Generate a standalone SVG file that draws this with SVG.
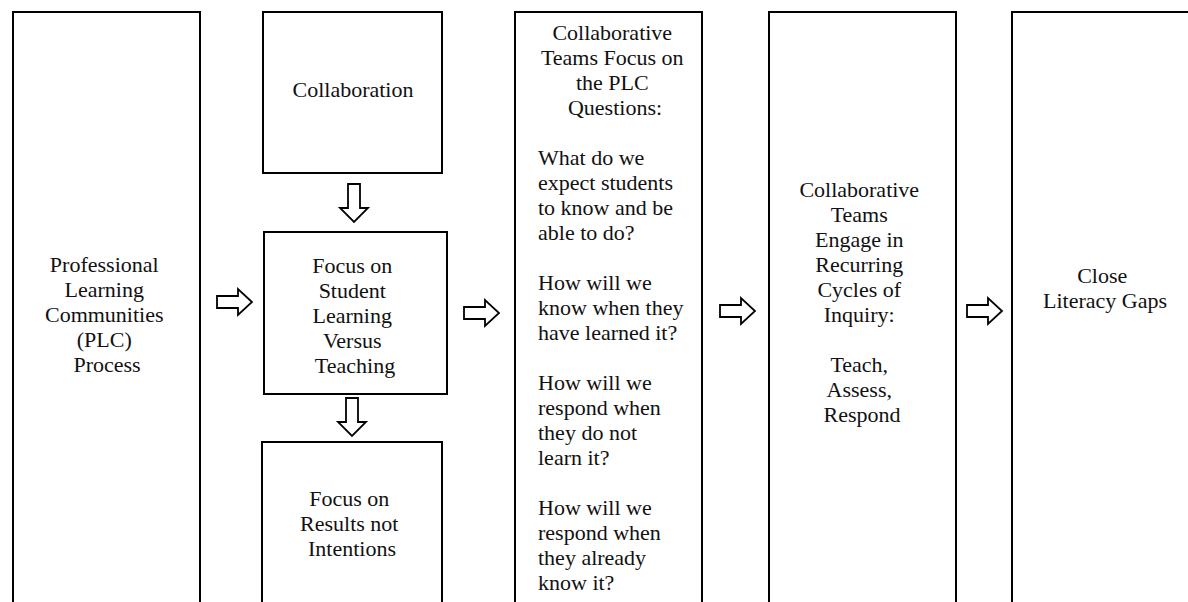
<svg xmlns="http://www.w3.org/2000/svg" width="1188" height="602" viewBox="0 0 1188 602">
  <style>
    .box { fill: #ffffff; stroke: #000000; stroke-width: 2; }
    .arrow { fill: #ffffff; stroke: #000000; stroke-width: 1.8; stroke-linejoin: miter; }
    text { font-family: "Liberation Serif", "Times New Roman", serif; font-size: 22px; fill: #111111; }
    .c { text-anchor: middle; }
  </style>
  <defs>
    <!-- hollow block arrows -->
    <path id="arrow-right" d="M0,-6 H21 V-13 L35,0 L21,13 V6 H0 Z"/>
    <path id="arrow-down" d="M-6,0 V24 H-14 L0,38 L14,24 H6 V0 Z"/>
  </defs>
  <rect width="1188" height="602" fill="#ffffff"/>

  <g id="plc-process">
    <rect class="box" x="13" y="12" width="187" height="620"/>
    <text class="c" font-family="Liberation Serif, serif">
      <tspan x="107" y="272">Professional</tspan>
      <tspan x="107" y="297">Learning</tspan>
      <tspan x="107" y="322">Communities</tspan>
      <tspan x="107" y="347">(PLC)</tspan>
      <tspan x="107" y="372">Process</tspan>
    </text>
  </g>

  <g id="collaboration">
    <rect class="box" x="263" y="12" width="179" height="161"/>
    <text class="c" x="353" y="97">Collaboration</text>
  </g>

  <g id="student-learning">
    <rect class="box" x="264" y="232" width="183" height="162"/>
    <text class="c">
      <tspan x="355" y="273">Focus on</tspan>
      <tspan x="355" y="298">Student</tspan>
      <tspan x="355" y="323">Learning</tspan>
      <tspan x="355" y="348">Versus</tspan>
      <tspan x="355" y="373">Teaching</tspan>
    </text>
  </g>

  <g id="results">
    <rect class="box" x="262" y="442" width="180" height="200"/>
    <text class="c">
      <tspan x="352" y="506">Focus on</tspan>
      <tspan x="352" y="531">Results not</tspan>
      <tspan x="352" y="556">Intentions</tspan>
    </text>
  </g>

  <g id="plc-questions">
    <rect class="box" x="515" y="12" width="187" height="620"/>
    <text class="c">
      <tspan x="615" y="40">Collaborative</tspan>
      <tspan x="615" y="65">Teams Focus on</tspan>
      <tspan x="615" y="90">the PLC</tspan>
      <tspan x="615" y="115">Questions:</tspan>
    </text>
    <text>
      <tspan x="538" y="165">What do we</tspan>
      <tspan x="538" y="190">expect students</tspan>
      <tspan x="538" y="215">to know and be</tspan>
      <tspan x="538" y="240">able to do?</tspan>
      <tspan x="538" y="290">How will we</tspan>
      <tspan x="538" y="315">know when they</tspan>
      <tspan x="538" y="340">have learned it?</tspan>
      <tspan x="538" y="390">How will we</tspan>
      <tspan x="538" y="415">respond when</tspan>
      <tspan x="538" y="440">they do not</tspan>
      <tspan x="538" y="465">learn it?</tspan>
      <tspan x="538" y="515">How will we</tspan>
      <tspan x="538" y="540">respond when</tspan>
      <tspan x="538" y="565">they already</tspan>
      <tspan x="538" y="590">know it?</tspan>
    </text>
  </g>

  <g id="inquiry-cycles">
    <rect class="box" x="769" y="12" width="187" height="620"/>
    <text class="c">
      <tspan x="862" y="197">Collaborative</tspan>
      <tspan x="862" y="222">Teams</tspan>
      <tspan x="862" y="247">Engage in</tspan>
      <tspan x="862" y="272">Recurring</tspan>
      <tspan x="862" y="297">Cycles of</tspan>
      <tspan x="862" y="322">Inquiry:</tspan>
      <tspan x="862" y="372">Teach,</tspan>
      <tspan x="862" y="397">Assess,</tspan>
      <tspan x="862" y="422">Respond</tspan>
    </text>
  </g>

  <g id="literacy-gaps">
    <rect class="box" x="1012" y="12" width="200" height="620"/>
    <text class="c">
      <tspan x="1105" y="283">Close</tspan>
      <tspan x="1105" y="308">Literacy Gaps</tspan>
    </text>
  </g>

  <g id="connectors">
    <use href="#arrow-right" class="arrow" transform="translate(217,302)"/>
    <use href="#arrow-down" class="arrow" transform="translate(354,184)"/>
    <use href="#arrow-down" class="arrow" transform="translate(352,398)"/>
    <use href="#arrow-right" class="arrow" transform="translate(464,313)"/>
    <use href="#arrow-right" class="arrow" transform="translate(720,311)"/>
    <use href="#arrow-right" class="arrow" transform="translate(967,311)"/>
  </g>
</svg>
